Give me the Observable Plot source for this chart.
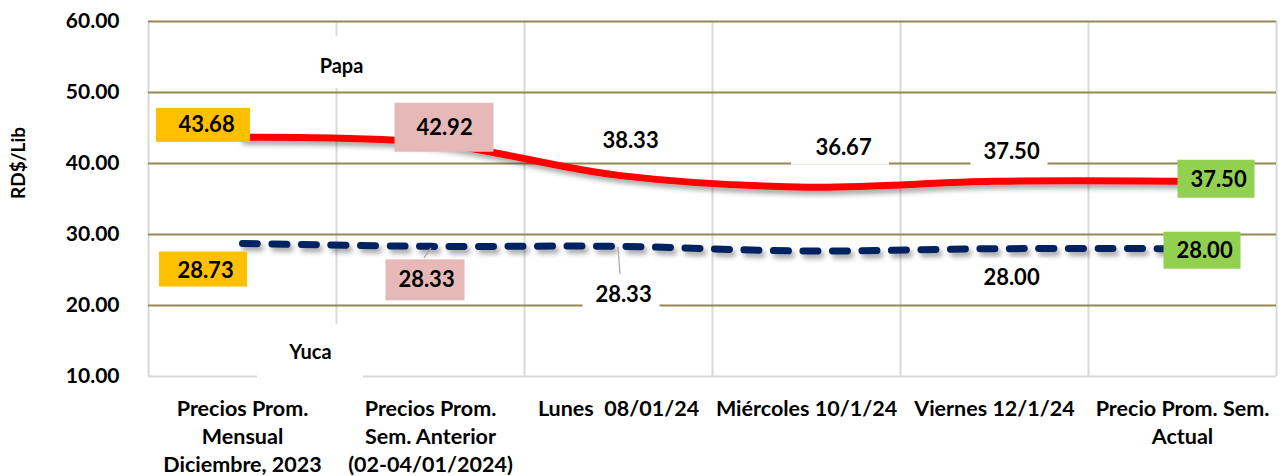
<!DOCTYPE html>
<html><head><meta charset="utf-8">
<script src="https://cdn.jsdelivr.net/npm/d3@7"></script>
<script src="https://cdn.jsdelivr.net/npm/@observablehq/plot@0.6"></script>
<style>body{margin:0;background:#fff;} svg{display:block}</style>
</head><body><div id="chart"></div>
<script>
// ---- data ----
const categories = [
  "Precios Prom.\nMensual\nDiciembre, 2023",
  "Precios Prom.\nSem. Anterior\n(02-04/01/2024)",
  "Lunes  08/01/24",
  "Miércoles 10/1/24",
  "Viernes 12/1/24",
  "Precio Prom. Sem.\nActual"
];
const papa = [43.68, 42.92, 38.33, 36.67, 37.50, 37.50];
const yuca = [28.73, 28.33, 28.33, 27.67, 28.00, 28.00];
const yTicks = [10, 20, 30, 40, 50, 60];
const seriesNames = ["Papa", "Yuca"];
const yTitle = "RD$/Lib";

// ---- label layout (pixel offsets from the data point) ----
const labelLayout = [
  {s: "Papa", i: 0, dx: -36, dy: -12, fill: "#FFC000", bx: -3, by: 0, bw: 94, bh: 34},
  {s: "Papa", i: 1, dx: 14, dy: -15, fill: "#E6B9B8", bx: 0, by: 0, bw: 99, bh: 49},
  {s: "Papa", i: 2, dx: 12, dy: -34, fill: "white", bx: 0, by: 0, bw: 80, bh: 32},
  {s: "Papa", i: 3, dx: 37, dy: -39, fill: "white", bx: -3, by: 0, bw: 98, bh: 34},
  {s: "Papa", i: 4, dx: 17, dy: -29, fill: "white", bx: -2, by: 0, bw: 77, bh: 32},
  {s: "Papa", i: 5, dx: 36, dy: -1, fill: "#92D050", bx: -2, by: -1, bw: 77, bh: 38},
  {s: "Yuca", i: 0, dx: -37, dy: 27, fill: "#FFC000", bx: -2, by: -1, bw: 88, bh: 35},
  {s: "Yuca", i: 1, dx: -4, dy: 34, fill: "#E6B9B8", bx: -1, by: 0, bw: 79, bh: 41, leader: [1, 2, -6, 12]},
  {s: "Yuca", i: 2, dx: 5, dy: 49, fill: "white", bx: -2, by: 0, bw: 77, bh: 33, leader: [0, 1, 2, 28]},
  {s: "Yuca", i: 4, dx: 17, dy: 29, fill: "white", bx: -2, by: 0, bw: 77, bh: 38},
  {s: "Yuca", i: 5, dx: 22, dy: 2, fill: "#92D050", bx: -2, by: 0, bw: 77, bh: 37}
];
const nameLayout = [
  {s: "Papa", i: 0, dx: 99, dy: -71, fill: "white", bx: 0, by: -4, bw: 100, bh: 52},
  {s: "Yuca", i: 0, dx: 68, dy: 109, fill: "white", bx: 0, by: 0, bw: 106, bh: 56}
];

const values = {Papa: papa, Yuca: yuca};
const papaRows = categories.map((c, i) => ({i, v: papa[i]}));
const yucaRows = categories.map((c, i) => ({i, v: yuca[i]}));
const idx = d3.range(categories.length);

const labelMarks = labelLayout.map(L => Plot.text([{i: L.i, v: values[L.s][L.i]}], {
  x: "i", y: "v", text: d => d.v.toFixed(2), dx: L.dx, dy: L.dy,
  fontSize: 22, fontWeight: "bold", fill: "black"
}));
const nameMarks = nameLayout.map(L => Plot.text([{i: L.i, v: values[L.s][L.i], s: L.s}], {
  x: "i", y: "v", text: "s", dx: L.dx, dy: L.dy,
  fontSize: 20, fontWeight: "bold", fill: "black"
}));

const svg = Plot.plot({
  width: 1284, height: 476,
  marginLeft: 148, marginRight: 8, marginTop: 21, marginBottom: 100,
  style: {fontFamily: "Lato, 'Open Sans', sans-serif", fontSize: "20px", fontWeight: "bold", color: "black", background: "white"},
  x: {type: "linear", domain: [-0.5, categories.length - 0.5]},
  y: {domain: [10, 60]},
  marks: [
    Plot.ruleX(d3.range(categories.length + 1).map(k => k - 0.5), {stroke: "#d9d9d9", strokeWidth: 2}),
    Plot.ruleY(yTicks.filter(t => t > 10), {stroke: "#948A54", strokeWidth: 2}),
    Plot.ruleY([10], {stroke: "#d9d9d9", strokeWidth: 2}),
    Plot.axisY(yTicks, {tickFormat: d => d.toFixed(2), tickSize: 0, tickPadding: 29, fontSize: 21, fontWeight: "bold", fill: "black", label: null}),
    Plot.axisX(idx, {tickFormat: i => categories[i], tickSize: 0, tickPadding: 19, fontSize: 21.5, fontWeight: "bold", fill: "black", lineHeight: 1.32, label: null}),
    Plot.text([yTitle], {frameAnchor: "left", rotate: -90, dx: -130, fontSize: 19, fontWeight: "bold", fill: "black"}),
    Plot.line(papaRows, {x: "i", y: "v", stroke: "#FF0000", strokeWidth: 7, curve: "catmull-rom"}),
    Plot.line(yucaRows, {x: "i", y: "v", stroke: "#002060", strokeWidth: 7, strokeDasharray: "15 14.5", strokeLinecap: "round", curve: "catmull-rom"}),
    ...labelMarks,
    ...nameMarks
  ]
});
document.getElementById("chart").appendChild(svg);

// ---- decorations: shadow, label boxes, leaders ----
const NS = "http://www.w3.org/2000/svg";
const xs = svg.scale("x"), ys = svg.scale("y");
const defs = document.createElementNS(NS, "defs");
defs.innerHTML = '<filter id="lshadow" filterUnits="userSpaceOnUse" x="0" y="0" width="1284" height="476"><feDropShadow dx="3" dy="4" stdDeviation="2.5" flood-color="#000" flood-opacity="0.35"/></filter>';
svg.insertBefore(defs, svg.firstChild);
svg.querySelectorAll('g[aria-label="line"]').forEach(g => g.setAttribute("filter", "url(#lshadow)"));

const deco = document.createElementNS(NS, "g");
const firstText = Array.from(svg.querySelectorAll('g[aria-label="text"]'))[1];
[...labelLayout, ...nameLayout].forEach(L => {
  const v = values[L.s][L.i];
  const px = xs.apply(L.i), py = ys.apply(v);
  if (L.leader) {
    const ln = document.createElementNS(NS, "line");
    ln.setAttribute("x1", px + L.leader[0]); ln.setAttribute("y1", py + L.leader[1]);
    ln.setAttribute("x2", px + L.leader[2]); ln.setAttribute("y2", py + L.leader[3]);
    ln.setAttribute("stroke", "#a6a6a6"); ln.setAttribute("stroke-width", 1.2);
    deco.appendChild(ln);
  }
});
[...labelLayout, ...nameLayout].forEach(L => {
  const v = values[L.s][L.i];
  const cx = xs.apply(L.i) + L.dx + L.bx, cy = ys.apply(v) + L.dy + L.by;
  const r = document.createElementNS(NS, "rect");
  r.setAttribute("x", cx - L.bw / 2); r.setAttribute("y", cy - L.bh / 2);
  r.setAttribute("width", L.bw); r.setAttribute("height", L.bh);
  r.setAttribute("fill", L.fill);
  deco.appendChild(r);
});
svg.insertBefore(deco, firstText);
</script>
</body></html>
